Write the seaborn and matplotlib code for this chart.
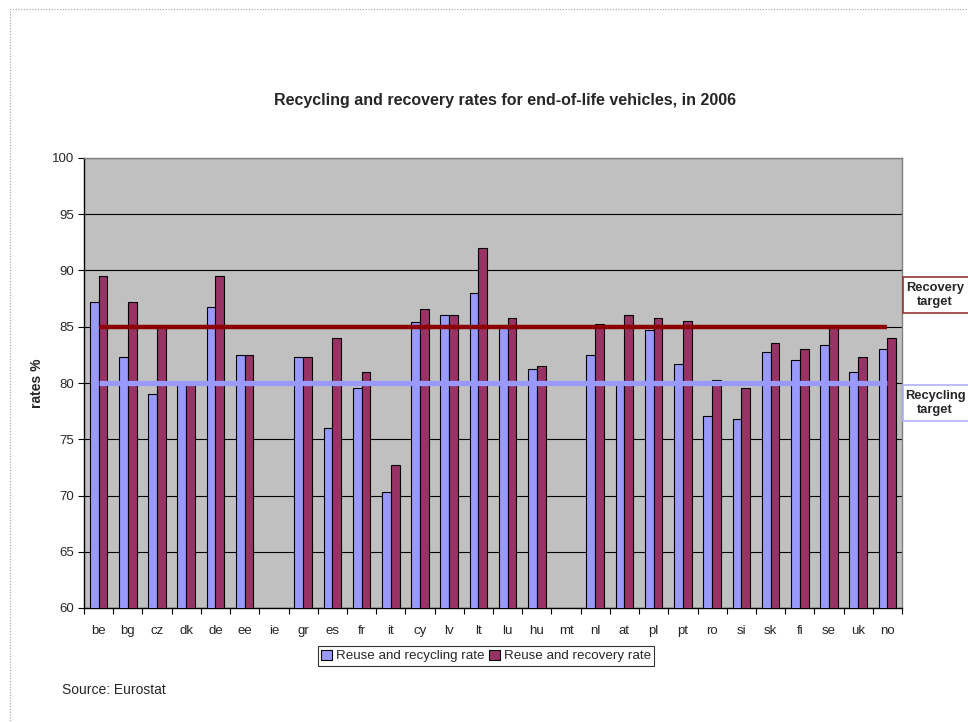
import numpy as np
import pandas as pd
import matplotlib
matplotlib.use("Agg")
import matplotlib.pyplot as plt
from matplotlib.patches import Rectangle
import seaborn as sns

countries = ["be", "bg", "cz", "dk", "de", "ee", "ie", "gr", "es", "fr", "it", "cy", "lv",
             "lt", "lu", "hu", "mt", "nl", "at", "pl", "pt", "ro", "si", "sk", "fi", "se",
             "uk", "no"]
recycling_rate = [87.2, 82.3, 79.0, 80.0, 86.8, 82.5, np.nan, 82.3, 76.0, 79.6, 70.3, 85.4, 86.0,
                  88.0, 85.0, 81.2, np.nan, 82.5, 80.0, 84.7, 81.7, 77.1, 76.8, 82.8, 82.0, 83.4,
                  81.0, 83.0]
recovery_rate = [89.5, 87.2, 85.0, 80.0, 89.5, 82.5, np.nan, 82.3, 84.0, 81.0, 72.7, 86.6, 86.0,
                 92.0, 85.8, 81.5, np.nan, 85.2, 86.0, 85.8, 85.5, 80.3, 79.6, 83.6, 83.0, 85.0,
                 82.3, 84.0]
series_names = ["Reuse and recycling rate", "Reuse and recovery rate"]
recovery_target = 85
recycling_target = 80
y_ticks = [60, 65, 70, 75, 80, 85, 90, 95, 100]

df = pd.DataFrame({
    "country": countries * 2,
    "rate": recycling_rate + recovery_rate,
    "series": [series_names[0]] * len(countries) + [series_names[1]] * len(countries),
})

sns.set_theme(style="white")
plt.rcParams["font.family"] = ["Liberation Sans", "DejaVu Sans"]

W, H = 968, 722
fig = plt.figure(figsize=(W / 100, H / 100), dpi=100)
ax = fig.add_axes([84 / W, 1 - 608 / H, (902 - 84) / W, (608 - 158) / H])
ax.set_facecolor("#C0C0C0")

blue = "#9999FF"
plum = "#993366"
sns.barplot(data=df, x="country", y="rate", hue="series", order=countries,
            hue_order=series_names, palette=[blue, plum], saturation=1, width=0.6,
            edgecolor="black", linewidth=0.8, ax=ax, legend=True, zorder=3)

ax.set_ylim(60, 100)
ax.set_xlim(-0.5, len(countries) - 0.5)
ax.set_yticks(y_ticks)
ax.yaxis.grid(True, color="black", linewidth=0.8, zorder=1)
ax.set_axisbelow(True)

# Target lines spanning first to last category
ax.plot([0, len(countries) - 1], [recovery_target] * 2, color="#8B0000", lw=3.2, zorder=4,
        solid_capstyle="butt")
ax.plot([0, len(countries) - 1], [recycling_target] * 2, color=blue, lw=3.8, zorder=4,
        solid_capstyle="butt")

# Axis styling
for side in ["top", "right"]:
    ax.spines[side].set_color("#808080")
    ax.spines[side].set_linewidth(1.0)
for side in ["left", "bottom"]:
    ax.spines[side].set_color("black")
    ax.spines[side].set_linewidth(1.0)

ax.tick_params(axis="y", which="major", direction="out", length=4, width=0.8, color="black",
               labelsize=9.5, pad=3, left=True)
ax.tick_params(axis="x", which="major", length=0, labelsize=9.5, pad=12)
ax.set_xticks(np.arange(-0.5, len(countries), 1.0), minor=True)
ax.tick_params(axis="x", which="minor", direction="out", length=4, width=0.8, color="black",
               bottom=True)
ax.set_xlabel("")
ax.set_ylabel("rates %", fontsize=10, fontweight="bold", labelpad=6)

# Legend below the plot
handles, labels = ax.get_legend_handles_labels()
ax.legend_.remove()
leg = fig.legend(handles, labels, loc="center", bbox_to_anchor=(486 / W, 1 - 656 / H),
                 ncol=2, frameon=True, fancybox=False, edgecolor="black", fontsize=9.6,
                 handlelength=0.8, handleheight=0.8, handletextpad=0.3, columnspacing=0.4,
                 borderpad=0.25, borderaxespad=0)
leg.get_frame().set_linewidth(0.8)

# Title and source
fig.text(505 / W, 1 - 100 / H, "Recycling and recovery rates for end-of-life vehicles, in 2006",
         ha="center", va="center", fontsize=11.5, fontweight="bold")
fig.text(62 / W, 1 - 690 / H, "Source: Eurostat", ha="left", va="center", fontsize=10)

# Target labels at the right edge
for (top, bottom), txt, edge in [((277, 313), "Recovery\ntarget", "#993333"),
                                 ((385, 421), "Recycling\ntarget", "#B0B0FF")]:
    fig.patches.append(Rectangle((903 / W, 1 - bottom / H), 80 / W, (bottom - top) / H,
                                 transform=fig.transFigure, facecolor="white",
                                 edgecolor=edge, lw=1.2))
    fig.text(935 / W, 1 - (top + bottom) / 2 / H, txt, ha="center", va="center", fontsize=9.3,
             fontweight="bold", linespacing=1.2)

# Dotted outer frame
fig.patches.append(Rectangle((10 / W, -0.05), 1.1, 1 - 9 / H + 0.05, transform=fig.transFigure,
                             fill=False, edgecolor="#A0A0A0", lw=0.8, linestyle=(0, (1, 1.5))))

fig.savefig("out.png", dpi=100, facecolor="white")
